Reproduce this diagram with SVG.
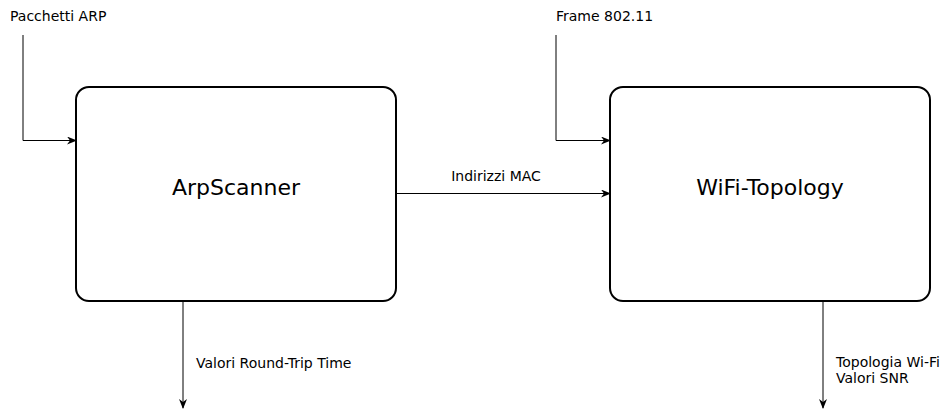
<svg xmlns="http://www.w3.org/2000/svg" width="942" height="410" viewBox="0 0 942 410">
<defs>
<marker id="ah" markerWidth="10" markerHeight="8" refX="9" refY="4" orient="auto" markerUnits="userSpaceOnUse">
<path d="M0,0 L10,4 L0,8 L3,4 Z" fill="#000"/>
</marker>
<style>
.box{fill:#fff;stroke:#000;stroke-width:2}
.ln{fill:none;stroke:#000;stroke-width:1;marker-end:url(#ah)}
.lbl{font-family:"DejaVu Sans",sans-serif;font-size:14px;fill:#000}
.title{font-family:"DejaVu Sans",sans-serif;font-size:22px;fill:#000;text-anchor:middle}
</style>
</defs>
<rect width="942" height="410" fill="#fff"/>
<g id="connectors">
<path class="ln" d="M23,35 V140.5 H76"/>
<path class="ln" d="M556,35 V140.5 H610"/>
<path class="ln" d="M396,193.5 H610"/>
<path class="ln" d="M183,301 V408"/>
<path class="ln" d="M823,301 V408"/>
<text class="lbl" x="10" y="21">Pacchetti ARP</text>
<text class="lbl" x="556" y="21">Frame 802.11</text>
<text class="lbl" x="496" y="181" text-anchor="middle">Indirizzi MAC</text>
<text class="lbl" x="196" y="368">Valori Round-Trip Time</text>
<text class="lbl" x="836" y="367">Topologia Wi-Fi</text>
<text class="lbl" x="836" y="383">Valori SNR</text>
</g>
<g id="arpscanner">
<rect class="box" x="76" y="87" width="320" height="214" rx="13" ry="13"/>
<text class="title" x="236" y="195">ArpScanner</text>
</g>
<g id="wifi-topology">
<rect class="box" x="610" y="87" width="320" height="214" rx="13" ry="13"/>
<text class="title" x="770" y="195">WiFi-Topology</text>
</g>
</svg>
